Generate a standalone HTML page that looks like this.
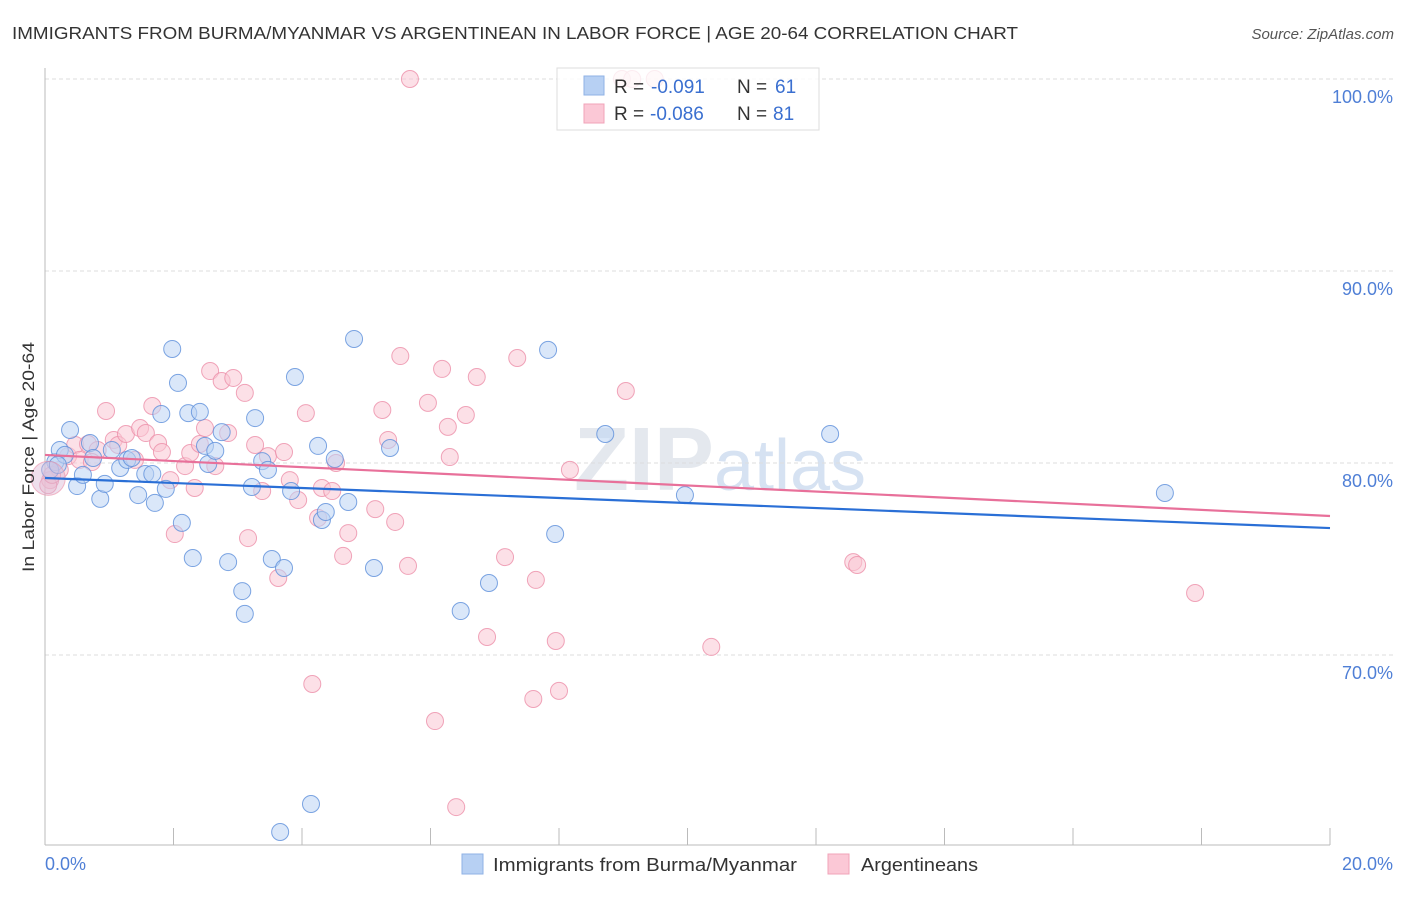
<!DOCTYPE html>
<html><head><meta charset="utf-8"><style>
body{margin:0;background:#fff;font-family:"Liberation Sans",sans-serif;}
svg text{font-family:"Liberation Sans",sans-serif;}
</style></head><body>
<svg id="chart" width="1406" height="892">
<text x="12" y="39" font-size="17.5" fill="#333" textLength="1006" lengthAdjust="spacingAndGlyphs">IMMIGRANTS FROM BURMA/MYANMAR VS ARGENTINEAN IN LABOR FORCE | AGE 20-64 CORRELATION CHART</text>
<text x="1394" y="39" font-size="15" fill="#555" font-style="italic" text-anchor="end">Source: ZipAtlas.com</text>
<text x="720" y="490" font-size="90" fill="#e4e8ee" text-anchor="middle" font-weight="bold">ZIP<tspan fill="#d6e2f2" font-weight="normal" font-size="72">atlas</tspan></text>
<g id="grid"></g>
<g id="axes"></g>
<g id="pts"></g>
<g id="lines"></g>
<text transform="translate(34,457) rotate(-90)" font-size="17" fill="#333" text-anchor="middle" textLength="230" lengthAdjust="spacingAndGlyphs">In Labor Force | Age 20-64</text>
<g>
<rect x="557" y="68" width="262" height="62" fill="#fff" fill-opacity="0.8" stroke="#ddd"/>
<rect x="584" y="76" width="20" height="19" fill="#b7d0f3" stroke="#8fb2e6"/>
<rect x="584" y="104" width="20" height="19" fill="#fbc8d6" stroke="#f0a3b8"/>
<text x="614" y="93" font-size="19" fill="#333">R =</text>
<text x="651" y="93" font-size="19" fill="#3a6fd0">-0.091</text>
<text x="737" y="93" font-size="19" fill="#333">N =</text>
<text x="775" y="93" font-size="19" fill="#3a6fd0">61</text>
<text x="614" y="120" font-size="19" fill="#333">R =</text>
<text x="650" y="120" font-size="19" fill="#3a6fd0">-0.086</text>
<text x="737" y="120" font-size="19" fill="#333">N =</text>
<text x="773" y="120" font-size="19" fill="#3a6fd0">81</text>
</g>
<g>
<rect x="462" y="854" width="21" height="20" fill="#b7d0f3" stroke="#8fb2e6"/>
<text x="493" y="871" font-size="18" fill="#333" textLength="304" lengthAdjust="spacingAndGlyphs">Immigrants from Burma/Myanmar</text>
<rect x="828" y="854" width="21" height="20" fill="#fbc8d6" stroke="#f0a3b8"/>
<text x="861" y="871" font-size="18" fill="#333" textLength="117" lengthAdjust="spacingAndGlyphs">Argentineans</text>
</g>
</svg>
<script>
const blueX=[.16,.23,.39,.31,.50,.59,.70,.75,.86,.93,1.04,1.17,1.28,1.35,1.45,1.56,1.67,1.71,1.81,1.88,1.98,2.07,2.13,2.23,2.30,2.41,2.49,2.54,2.65,2.75,2.85,3.07,3.11,3.27,3.22,3.38,3.47,3.53,3.72,3.89,3.83,4.25,4.31,4.37,4.51,4.72,4.81,5.12,5.37,6.47,6.91,7.83,7.94,8.72,9.96,12.22,17.43,3.66,4.14,.08,.20];
const blueY=[80.05,80.68,81.72,80.42,78.80,79.38,81.04,80.26,78.13,78.91,80.68,79.74,80.16,80.26,78.33,79.43,79.43,77.92,82.55,78.65,85.94,84.17,76.88,82.60,75.05,82.66,80.89,79.95,80.63,81.61,74.84,73.33,72.14,82.34,78.75,80.10,79.64,75.00,74.53,84.48,78.54,80.89,77.03,77.45,80.21,77.97,86.46,74.53,80.78,72.29,73.75,85.89,76.30,81.51,78.33,81.51,78.44,60.78,62.24,79.64,79.90];
const pinkX=[5.68,8.98,9.14,9.49,.08,.23,.36,.47,.67,.82,.95,1.07,1.14,1.26,1.40,1.48,1.57,1.67,1.76,1.82,1.95,2.02,2.18,2.26,2.33,2.41,2.49,2.57,2.65,2.75,2.85,2.93,3.11,3.16,3.27,3.38,3.47,3.63,3.72,3.81,3.94,4.06,4.16,4.25,4.31,4.47,4.53,4.64,4.72,5.14,5.25,5.34,5.45,5.53,5.65,5.96,6.07,6.18,6.27,6.30,6.40,6.55,6.72,6.88,7.16,7.35,7.60,7.64,7.95,8.00,8.17,9.04,10.37,12.58,12.64,17.90,.05,.11,.54,.73];
const pinkY=[100,100,100,100,79.11,79.64,80.36,80.94,80.99,80.68,82.71,81.20,80.94,81.51,80.16,81.82,81.56,82.97,81.04,80.57,79.11,76.30,79.84,80.52,78.70,80.99,81.82,84.79,79.84,84.27,81.56,84.43,83.65,76.09,80.94,78.54,80.36,74.01,80.57,79.11,78.07,82.60,68.49,77.14,78.70,78.54,80.00,75.16,76.35,77.60,82.76,81.20,76.93,85.57,74.64,83.13,66.56,84.90,81.88,80.31,62.08,82.50,84.48,70.94,75.10,85.47,67.71,73.91,70.73,68.13,79.64,83.75,70.42,74.84,74.69,73.23,78.85,79.38,80.16,80.05];
const trendStart=[79.22,80.42];
const trendEnd=[76.61,77.24];
const yTicks=[100,90,80,70];
const yTickLabels=["100.0%","90.0%","80.0%","70.0%"];
const xTickLabels=["0.0%","20.0%"];

const NS="http://www.w3.org/2000/svg";
const X0=45,X1=1330;
const sx=v=>X0+(v/20)*(X1-X0);
const sy=v=>79+(100-v)*19.2;
function mk(tag,attrs,parent){const e=document.createElementNS(NS,tag);for(const k in attrs)e.setAttribute(k,attrs[k]);document.getElementById(parent).appendChild(e);return e;}

yTicks.forEach((t,i)=>{
  const g=mk('line',{x1:X0,x2:1393,y1:sy(t),y2:sy(t),stroke:'#ddd','stroke-dasharray':'4,3'},'grid');
  
  
  const l=mk('text',{x:1393,y:sy(t)+24,'font-size':18,fill:'#4f7fd6','text-anchor':'end'},'axes');
  l.textContent=yTickLabels[i];
  
  
});
const ax=mk('line',{x1:X0,x2:X0,y1:68,y2:845,stroke:'#bbb'},'axes');


const bx=mk('line',{x1:X0,x2:X1,y1:845,y2:845,stroke:'#bbb'},'axes');


for(let i=0;i<=10;i++){
  const t=mk('line',{x1:sx(i*2),x2:sx(i*2),y1:828,y2:845,stroke:'#bbb'},'axes');
  
  
}
const xl0=mk('text',{x:45,y:870,'font-size':18,fill:'#4f7fd6'},'axes');xl0.textContent=xTickLabels[0];


const xl1=mk('text',{x:1393,y:870,'font-size':18,fill:'#4f7fd6','text-anchor':'end'},'axes');xl1.textContent=xTickLabels[1];



function pts(xs,ys,fill,stroke,name){
  xs.forEach((x,i)=>{
    const c=mk('circle',{cx:sx(x),cy:sy(ys[i]),r:8.5,fill:fill,'fill-opacity':0.55,stroke:stroke,'stroke-opacity':0.8,'stroke-width':1},'pts');
    
    
  });
}
pts(pinkX,pinkY,'#f9c6d4','#ec8fa9','argentinean-point');
pts(blueX,blueY,'#bcd4f4','#5d8fdb','burma-point');
const big=mk('circle',{cx:sx(0.05),cy:sy(79.2),r:17,fill:'#d9b9d4','fill-opacity':0.45,stroke:'#ec8fa9','stroke-opacity':0.6},'pts');


const colors=['#2a6fd6','#e8709a'];
const names=['trend-line-burma','trend-line-argentineans'];
[1,0].forEach(i=>{
  const l=mk('line',{x1:sx(0),x2:sx(20),y1:sy(trendStart[i]),y2:sy(trendEnd[i]),stroke:colors[i],'stroke-width':2.2},'lines');
  
  
});
</script>
</body></html>
